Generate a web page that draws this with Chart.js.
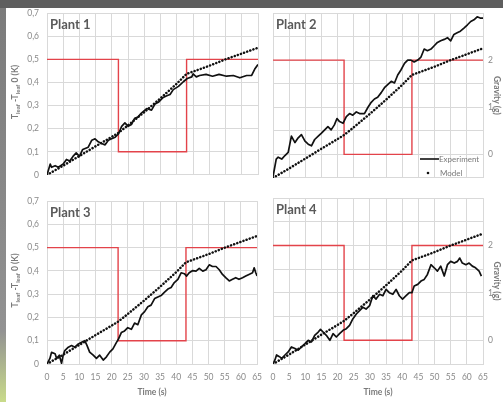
<!DOCTYPE html>
<html>
<head>
<meta charset="utf-8">
<script src="https://cdn.jsdelivr.net/npm/chart.js@4.4.1/dist/chart.umd.min.js"></script>
<style>
  html, body { margin: 0; padding: 0; background: #fff; }
  #wrap { position: relative; width: 503px; height: 402px; overflow: hidden; background: #fff; }
  #topbar { position: absolute; left: 0; top: 0; width: 503px; height: 8px; background: #5e5e5e; }
  #side { position: absolute; left: 0; top: 8px; width: 6px; height: 394px;
          background: linear-gradient(#7b7b7b, #929292 82%, #c9db8a); }
  .pane { position: absolute; }
</style>
</head>
<body>
<div id="wrap">
  <div id="topbar"></div>
  <div id="side"></div>
  <div class="pane" style="left:0;top:0;width:270px;height:188px"><canvas id="c1"></canvas></div>
  <div class="pane" style="left:262px;top:0;width:241px;height:188px"><canvas id="c2"></canvas></div>
  <div class="pane" style="left:0;top:188px;width:270px;height:214px"><canvas id="c3"></canvas></div>
  <div class="pane" style="left:262px;top:188px;width:241px;height:214px"><canvas id="c4"></canvas></div>
</div>
<script>
// Axis settings
const timeMin = 0, timeMax = 65, timeStep = 5;
const tempMin = 0, tempMax = 0.7, tempStep = 0.1;
const gravityMin = -0.5, gravityMax = 3;
const gravityTicks = [0, 1, 2];

// Gravity profile (g): 2 g until 22 s, 0 g until 43 s, then 2 g again
const gravityTime = [0, 22, 22, 43, 43, 65];
const gravityLevel = [2, 2, 0, 0, 2, 2];

// Model leaf temperature rise (K)
const modelTime = [0, 5, 10, 15, 20, 22, 25, 30, 35, 40, 43, 46, 50, 55, 60, 65];
const modelTemp = [0, 0.04, 0.082, 0.124, 0.165, 0.182, 0.215, 0.272, 0.332, 0.395, 0.437, 0.452, 0.472, 0.5, 0.525, 0.55];

// Measured leaf temperature rise (K), one series per plant
const p1Time = [0, 1, 1.4, 2.5, 3.5, 5, 6, 7, 8, 9, 10, 11, 12.7, 13.8, 14.8, 15.8, 16.8, 17.9, 18.9, 19.9, 21, 22, 23, 24, 25, 26, 27, 28, 29, 30.7, 32.2, 33.3, 34.3, 35.8, 36.9, 37.9, 38.9, 40.5, 42, 43.2, 44.6, 45, 46, 47, 49, 51, 53, 55.3, 57.4, 59.4, 61.5, 63, 64, 65];
const p1Temp = [0, 0.047, 0.033, 0.04, 0.033, 0.047, 0.067, 0.06, 0.08, 0.095, 0.08, 0.11, 0.12, 0.15, 0.156, 0.143, 0.136, 0.13, 0.15, 0.156, 0.163, 0.177, 0.21, 0.225, 0.21, 0.218, 0.245, 0.25, 0.266, 0.287, 0.28, 0.307, 0.314, 0.335, 0.342, 0.348, 0.369, 0.383, 0.403, 0.417, 0.424, 0.437, 0.424, 0.43, 0.435, 0.427, 0.435, 0.427, 0.43, 0.42, 0.43, 0.43, 0.458, 0.478];

const p2Time = [0, 1, 1.6, 2.7, 3.7, 4.7, 5.7, 6.8, 7.8, 8.8, 9.9, 10.9, 11.9, 12.9, 14, 15, 16, 17, 18, 19, 19.8, 20.6, 21.7, 22.7, 23.7, 24.7, 25.8, 26.8, 28.3, 29.4, 30.4, 31.4, 32.4, 33.5, 34.5, 35.5, 36.6, 37.6, 38.6, 39.6, 40.7, 41.7, 42.7, 43.7, 44.8, 45.8, 46.8, 47.8, 48.9, 49.9, 50.9, 51.9, 53, 54, 55, 56, 57, 58, 59.1, 60.2, 61.2, 62.2, 63.2, 64.3, 65];
const p2Temp = [0.005, 0.08, 0.088, 0.08, 0.095, 0.108, 0.177, 0.15, 0.17, 0.184, 0.156, 0.143, 0.136, 0.163, 0.177, 0.19, 0.204, 0.218, 0.204, 0.225, 0.252, 0.239, 0.232, 0.26, 0.273, 0.266, 0.28, 0.273, 0.273, 0.3, 0.321, 0.335, 0.342, 0.362, 0.383, 0.396, 0.41, 0.403, 0.437, 0.458, 0.486, 0.5, 0.5, 0.492, 0.5, 0.513, 0.547, 0.54, 0.547, 0.561, 0.575, 0.582, 0.588, 0.595, 0.582, 0.609, 0.616, 0.623, 0.636, 0.65, 0.664, 0.671, 0.684, 0.678, 0.678];

const p3Time = [0, 0.9, 1.4, 2.5, 3, 3.8, 4.5, 5, 5.5, 6.6, 7.6, 8.6, 9.7, 10.7, 11.7, 12.4, 13.2, 14.3, 15.3, 16.3, 17.4, 18.4, 19.4, 20.4, 21.5, 22, 23, 24, 25, 26.1, 27.1, 28.1, 29.2, 30.2, 31.2, 32.2, 33.3, 34.3, 35.3, 36.3, 37.4, 38.4, 39.4, 40.5, 41.5, 42.5, 43.2, 44, 45, 46.1, 47.1, 48.2, 49.2, 50.2, 51.2, 52.3, 53.3, 54.3, 55.3, 56.4, 57.4, 58.4, 59.4, 60.5, 61.5, 62.5, 63.6, 64.1, 64.6, 65];
const p3Temp = [0, 0.024, 0.05, 0.044, 0.024, 0.038, 0.003, 0.038, 0.058, 0.072, 0.079, 0.072, 0.086, 0.093, 0.1, 0.079, 0.051, 0.038, 0.024, 0.038, 0.017, 0.031, 0.051, 0.065, 0.093, 0.104, 0.135, 0.142, 0.156, 0.149, 0.176, 0.169, 0.211, 0.225, 0.246, 0.253, 0.281, 0.288, 0.294, 0.308, 0.322, 0.329, 0.35, 0.364, 0.392, 0.388, 0.378, 0.392, 0.401, 0.399, 0.411, 0.399, 0.405, 0.426, 0.419, 0.419, 0.405, 0.385, 0.371, 0.357, 0.364, 0.371, 0.364, 0.371, 0.378, 0.385, 0.392, 0.413, 0.392, 0.378];

const p4Time = [0, 0.6, 1.1, 2, 2.7, 3.7, 4.7, 5.7, 6.8, 7.8, 8.8, 9.9, 10.9, 11.9, 12.9, 14, 14.7, 15.5, 16.5, 17.6, 18.6, 19.6, 20.6, 21.7, 22.7, 23.7, 24.7, 25.8, 26.8, 27.8, 28.8, 29.9, 30.9, 31.9, 33, 34, 35, 36, 37.1, 38.1, 39.1, 40.1, 41.2, 42.2, 43, 43.7, 44.8, 45.8, 46.8, 47.8, 48.9, 49.9, 50.9, 51.9, 53, 54, 55, 56.1, 57.1, 57.8, 58.6, 59.7, 60.7, 61.7, 62.7, 63.8, 64.5];
const p4Temp = [0, 0.017, 0.038, 0.031, 0.024, 0.038, 0.051, 0.072, 0.065, 0.058, 0.072, 0.086, 0.1, 0.093, 0.121, 0.135, 0.146, 0.135, 0.121, 0.1, 0.128, 0.114, 0.128, 0.142, 0.149, 0.163, 0.19, 0.211, 0.225, 0.239, 0.232, 0.246, 0.288, 0.274, 0.294, 0.288, 0.315, 0.301, 0.294, 0.315, 0.288, 0.274, 0.288, 0.301, 0.301, 0.329, 0.336, 0.35, 0.357, 0.378, 0.419, 0.406, 0.392, 0.413, 0.371, 0.419, 0.433, 0.426, 0.433, 0.447, 0.426, 0.419, 0.426, 0.413, 0.406, 0.392, 0.371];

const FONT = 'Lato, "Liberation Sans", sans-serif';
const TICK_COLOR = '#8a8a8a';
const TITLE_COLOR = '#7a7a7a';
const GRID_COLOR = '#d9d9d9';
const RED = '#e3434a';

Chart.defaults.font.family = FONT;
Chart.defaults.animation = false;

const zip = (xs, ys) => xs.map((x, i) => ({ x: x, y: ys[i] }));
const fmtTemp = v => { const r = Math.round(v * 10) / 10; return r === 0 ? '0' : r.toFixed(1).replace('.', ','); };

// Panel decorations: plant label, axis titles with subscripts, legend
const panelText = {
  id: 'panelText',
  afterDraw(chart, args, o) {
    const ctx = chart.ctx, a = chart.chartArea;
    ctx.save();
    // plant label inside the plot
    ctx.fillStyle = '#5a5a5a';
    ctx.font = 'bold 13px ' + FONT;
    ctx.textAlign = 'left';
    ctx.textBaseline = 'middle';
    ctx.fillText(o.label, a.left + 3, a.top + 12);

    ctx.fillStyle = TITLE_COLOR;
    if (o.leftTitle) {
      const parts = [['T', 0], ['leaf', 1], [' -T', 0], ['leaf', 1], [' 0 (K)', 0]];
      const mainFont = 'bold 8.5px ' + FONT, subFont = 'bold 6px ' + FONT;
      let total = 0;
      parts.forEach(p => { ctx.font = p[1] ? subFont : mainFont; total += ctx.measureText(p[0]).width; });
      ctx.translate(o.leftTitleX, (a.top + a.bottom) / 2 - 2);
      ctx.rotate(-Math.PI / 2);
      ctx.textBaseline = 'alphabetic';
      let x = -total / 2;
      parts.forEach(p => {
        ctx.font = p[1] ? subFont : mainFont;
        ctx.fillText(p[0], x, p[1] ? 5 : 3);
        x += ctx.measureText(p[0]).width;
      });
      ctx.setTransform(1, 0, 0, 1, 0, 0);
      ctx.scale(chart.currentDevicePixelRatio, chart.currentDevicePixelRatio);
    }
    if (o.rightTitle) {
      ctx.font = 'bold 8.5px ' + FONT;
      ctx.textAlign = 'center';
      ctx.textBaseline = 'middle';
      ctx.translate(o.rightTitleX, (a.top + a.bottom) / 2);
      ctx.rotate(Math.PI / 2);
      ctx.fillText('Gravity (g)', 0, 0);
      ctx.setTransform(1, 0, 0, 1, 0, 0);
      ctx.scale(chart.currentDevicePixelRatio, chart.currentDevicePixelRatio);
    }
    if (o.bottomTitle) {
      ctx.font = 'bold 8.5px ' + FONT;
      ctx.textAlign = 'center';
      ctx.textBaseline = 'middle';
      ctx.fillText('Time (s)', (a.left + a.right) / 2, o.bottomTitleY);
    }
    if (o.legend) {
      const L = o.legend;
      ctx.strokeStyle = '#111';
      ctx.lineWidth = 1.6;
      ctx.beginPath();
      ctx.moveTo(L.x, L.y);
      ctx.lineTo(L.x + 19, L.y);
      ctx.stroke();
      ctx.fillStyle = '#111';
      ctx.beginPath();
      ctx.arc(L.x + 8, L.y + 14, 1.3, 0, Math.PI * 2);
      ctx.fill();
      ctx.fillStyle = TITLE_COLOR;
      ctx.font = '8px ' + FONT;
      ctx.textAlign = 'left';
      ctx.textBaseline = 'middle';
      ctx.fillText('Experiment', L.x + 19, L.y);
      ctx.fillText('Model', L.x + 20, L.y + 14);
    }
    ctx.restore();
  }
};

function makePanel(id, cfg) {
  const datasets = [
    { label: 'Experiment', data: zip(cfg.time, cfg.temp), yAxisID: 'y',
      borderColor: '#111', borderWidth: 1.7, borderJoinStyle: 'round', pointRadius: 0, tension: 0 },
    { label: 'Model', data: zip(modelTime, modelTemp), yAxisID: 'y',
      borderColor: '#111', borderWidth: 2.5, borderDash: [0.1, 3.2], borderCapStyle: 'round', pointRadius: 0, tension: 0 },
    { label: 'Gravity', data: zip(gravityTime, gravityLevel), yAxisID: 'y2',
      borderColor: RED, borderWidth: 1.4, pointRadius: 0, tension: 0 }
  ];
  return new Chart(document.getElementById(id), {
    type: 'line',
    data: { datasets: datasets },
    plugins: [panelText],
    options: {
      responsive: true,
      maintainAspectRatio: false,
      layout: { padding: cfg.padding },
      plugins: {
        legend: { display: false },
        tooltip: { enabled: false },
        panelText: cfg.text
      },
      scales: {
        x: {
          type: 'linear', min: timeMin, max: timeMax,
          ticks: { stepSize: timeStep, display: cfg.showX, color: TICK_COLOR, font: { size: 8.5 }, padding: 8, maxRotation: 0, autoSkip: false },
          grid: { color: GRID_COLOR, drawTicks: false },
          border: { color: GRID_COLOR },
          afterFit: s => { s.height = cfg.xHeight; }
        },
        y: {
          type: 'linear', position: 'left', min: tempMin, max: tempMax,
          ticks: { stepSize: tempStep, display: cfg.showLeft, color: TICK_COLOR, font: { size: 8.5 }, padding: 8, callback: fmtTemp },
          grid: { color: GRID_COLOR, drawTicks: false },
          border: { color: GRID_COLOR },
          afterFit: s => { s.width = cfg.yWidth; }
        },
        y2: {
          type: 'linear', position: 'right', min: gravityMin, max: gravityMax,
          display: cfg.showRight,
          afterBuildTicks: s => { s.ticks = gravityTicks.map(v => ({ value: v })); },
          ticks: { color: TICK_COLOR, font: { size: 8.5 }, padding: 5 },
          grid: { drawOnChartArea: false, drawTicks: false },
          border: { display: false },
          afterFit: s => { s.width = cfg.showRight ? 20 : 0; }
        }
      }
    }
  });
}

makePanel('c1', { time: p1Time, temp: p1Temp, showX: false, showLeft: true, showRight: false,
  padding: { top: 13, right: 12, left: 0, bottom: 0 }, xHeight: 5, yWidth: 47,
  text: { label: 'Plant 1', leftTitle: true, leftTitleX: 15 } });
makePanel('c2', { time: p2Time, temp: p2Temp, showX: false, showLeft: false, showRight: true,
  padding: { top: 13, right: 0, left: 0, bottom: 0 }, xHeight: 5, yWidth: 11,
  text: { label: 'Plant 2', rightTitle: true, rightTitleX: 235, legend: { x: 158, y: 159 } } });
makePanel('c3', { time: p3Time, temp: p3Temp, showX: true, showLeft: true, showRight: false,
  padding: { top: 7, right: 12, left: 0, bottom: 0 }, xHeight: 38, yWidth: 47,
  text: { label: 'Plant 3', leftTitle: true, leftTitleX: 15, bottomTitle: true, bottomTitleY: 204 } });
makePanel('c4', { time: p4Time, temp: p4Temp, showX: true, showLeft: false, showRight: true,
  padding: { top: 7, right: 0, left: 0, bottom: 0 }, xHeight: 38, yWidth: 11,
  text: { label: 'Plant 4', rightTitle: true, rightTitleX: 235, bottomTitle: true, bottomTitleY: 204 } });
</script>
</body>
</html>
